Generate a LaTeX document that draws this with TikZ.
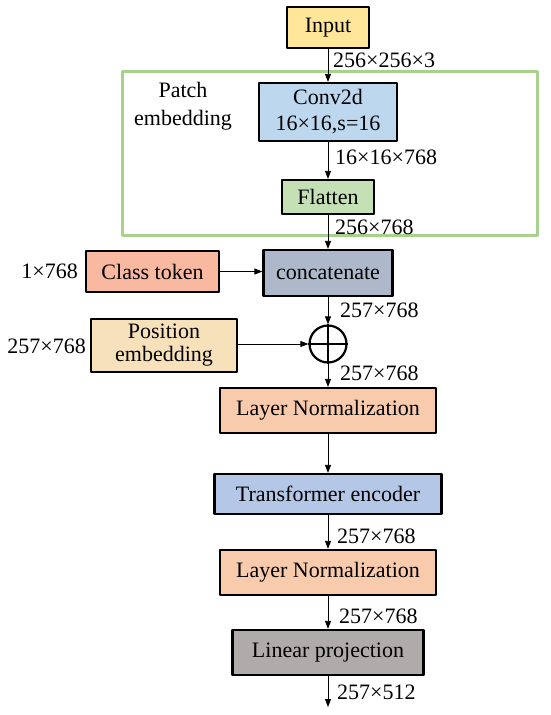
\documentclass[tikz,border=0pt]{standalone}
\usepackage{fontspec}
\setmainfont{Liberation Serif}
\usetikzlibrary{arrows.meta}
\definecolor{inputyellow}{HTML}{FFE699}
\definecolor{convblue}{HTML}{BDD7EE}
\definecolor{flatgreen}{HTML}{C5E0B4}
\definecolor{framegreen}{HTML}{A9D18E}
\definecolor{concatgray}{HTML}{ADB9CA}
\definecolor{clssalmon}{HTML}{F8B9A0}
\definecolor{postan}{HTML}{F7E1BA}
\definecolor{normpeach}{HTML}{F8CBAD}
\definecolor{encblue}{HTML}{B4C7E7}
\definecolor{projgray}{HTML}{AFABAB}
\begin{document}
\begin{tikzpicture}[x=1pt, y=-1pt, font=\fontsize{22}{26}\selectfont, line join=round, >={Triangle[length=8pt,width=6pt]},
	block/.style={draw, line width=2.2pt, inner sep=0pt, align=center},
	flow/.style={->, line width=0.8pt},
	dimlabel/.style={anchor=west, inner sep=0pt}]
	\useasboundingbox (0,0) rectangle (550,715);
	\draw[framegreen, line width=3pt] (122,71) rectangle (537,235);
	\node[align=center, font=\fontsize{22}{28}\selectfont] (patch) at (183,106) {Patch\\embedding};
	\node[block, fill=inputyellow, minimum width=82pt, minimum height=41pt] (input) at (328,27.5) {Input};
	\node[block, fill=convblue, minimum width=138pt, minimum height=58pt] (conv) at (328,112) {Conv2d\\16×16,s=16};
	\node[block, fill=flatgreen, minimum width=92pt, minimum height=34pt] (flatten) at (328,197) {Flatten};
	\node[block, fill=concatgray, minimum width=129pt, minimum height=46pt] (concat) at (328,273) {concatenate};
	\node[block, fill=clssalmon, minimum width=133pt, minimum height=41pt] (cls) at (152.5,271.5) {Class token};
	\node[block, fill=postan, minimum width=146pt, minimum height=53pt, font=\fontsize{22}{23}\selectfont] (pos) at (164,345.5) {Position\\embedding};
	\node[draw, circle, line width=2.2pt, minimum size=37pt, inner sep=0pt] (add) at (328,344) {};
	\draw[line width=2.2pt] (add.north) -- (add.south) (add.west) -- (add.east);
	\node[block, fill=normpeach, minimum width=216pt, minimum height=45pt] (norma) at (328,410.5) {Layer\ Normalization};
	\node[block, fill=encblue, minimum width=227pt, minimum height=40pt] (enc) at (328,494) {Transformer\ encoder};
	\node[block, fill=normpeach, minimum width=216pt, minimum height=45pt] (normb) at (328,572.5) {Layer\ Normalization};
	\node[block, fill=projgray, minimum width=191pt, minimum height=45pt] (proj) at (328,652.5) {Linear\ projection};
	\coordinate (out) at (328,707);
	\draw[flow] (input) -- (conv);
	\draw[flow] (conv) -- (flatten);
	\draw[flow] (flatten) -- (concat);
	\draw[flow] (cls.east) -- (cls.east -| concat.west);
	\draw[flow] (concat) -- (add);
	\draw[flow] (pos.east |- add.west) -- (add.west);
	\draw[flow] (add) -- (norma);
	\draw[flow] (norma) -- (enc);
	\draw[flow] (enc) -- (normb);
	\draw[flow] (normb) -- (proj);
	\draw[flow] (proj) -- (out);
	\node[dimlabel] (d1) at (333,60) {256×256×3};
	\node[dimlabel] (d2) at (335,157) {16×16×768};
	\node[dimlabel] (d3) at (335,227) {256×768};
	\node[dimlabel] (d4) at (340,310) {257×768};
	\node[dimlabel] (d5) at (340,373) {257×768};
	\node[dimlabel] (d6) at (337,536) {257×768};
	\node[dimlabel] (d7) at (339,616) {257×768};
	\node[dimlabel] (d8) at (337,692) {257×512};
	\node[anchor=east, inner sep=0pt] (clsdim) at (78,271) {1×768};
	\node[anchor=east, inner sep=0pt] (posdim) at (86,346) {257×768};
\end{tikzpicture}
\end{document}
